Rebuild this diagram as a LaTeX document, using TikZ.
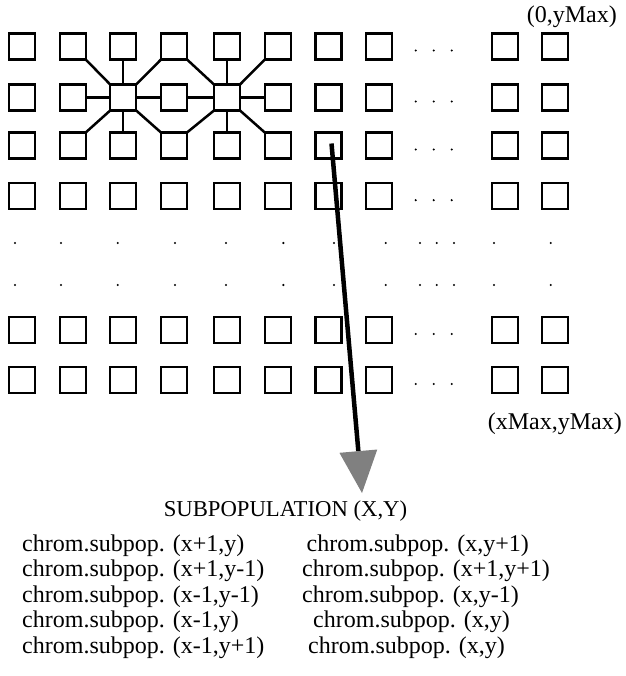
\documentclass[tikz,border=0pt]{standalone}
\usepackage{fontspec}
\setmainfont{Liberation Serif}
\usetikzlibrary{arrows.meta}
\begin{document}
\begin{tikzpicture}[x=1pt,y=-1pt,
  cell/.style={draw, line width=2.2pt, minimum size=26pt, inner sep=0pt, outer sep=0pt},
  link/.style={line width=2.5pt},
  dotmark/.style={fill=black},
  lbl/.style={font=\fontsize{24}{26}\selectfont, inner sep=0pt, anchor=base west},
  corner/.style={font=\fontsize{24}{26}\selectfont, inner sep=0pt, anchor=base east},
  bigarrow/.style={line width=4.5pt, -{Triangle[width=38pt,length=42pt,color=gray,line width=0pt]}},
]
\useasboundingbox (0,0) rectangle (625,676);
% grid of subpopulations
\foreach \c/\x in {1/21.7,2/72.7,3/123.2,4/174,5/227,6/277.8,7/328.5,8/378.7,9/504.7,10/555.2}{
  \foreach \r/\y in {1/46.5,2/97.5,3/145.5,4/196.2,5/330,6/380}{
    \node[cell] (s-\c-\r) at (\x,\y) {};
  }
}
% horizontal ellipses
\foreach \y in {46.5,97.5,145.5,196.2,330,380}{
  \foreach \x in {415.7,433.7,451.7}{
    \fill[dotmark] (\x,\y+4) circle (1.2);
  }
}
% vertical ellipsis rows
\foreach \y in {243,285}{
  \foreach \x in {15,61,117.7,175,226,283.3,334,385.7,420,436.7,454,494,550.7}{
    \fill[dotmark] (\x,\y) circle (1.2);
  }
}
% neighbourhood links, hub 1
\draw[link] (s-2-2.east) -- (s-3-2.west);
\draw[link] (s-3-2.east) -- (s-4-2.west);
\draw[link] (s-3-1.south) -- (s-3-2.north);
\draw[link] (s-3-2.south) -- (s-3-3.north);
\draw[link] (s-2-1.south east) -- (s-3-2.north west);
\draw[link] (s-4-1.south west) -- (s-3-2.north east);
\draw[link] (s-2-3.north east) -- (s-3-2.south west);
\draw[link] (s-4-3.north west) -- (s-3-2.south east);
% hub 2
\draw[link] (s-4-2.east) -- (s-5-2.west);
\draw[link] (s-5-2.east) -- (s-6-2.west);
\draw[link] (s-5-1.south) -- (s-5-2.north);
\draw[link] (s-5-2.south) -- (s-5-3.north);
\draw[link] (s-4-1.south east) -- (s-5-2.north west);
\draw[link] (s-6-1.south west) -- (s-5-2.north east);
\draw[link] (s-4-3.north east) -- (s-5-2.south west);
\draw[link] (s-6-3.north west) -- (s-5-2.south east);
% corner labels
\node[corner] (ymaxlbl) at (617,22.5) {(0,yMax)};
\node[corner] (xmaxlbl) at (622,429) {(xMax,yMax)};
% arrow to subpopulation
\coordinate (astart) at (331.5,143.5);
\coordinate (atip) at (362,493);
\draw[bigarrow] (astart) -- (atip);
\node[font=\fontsize{22.7}{24}\selectfont, inner sep=0pt, anchor=base] (subpop) at (285.5,516) {SUBPOPULATION (X,Y)};
% lists
\node[lbl] (l1) at (22,551) {chrom.subpop. (x+1,y)};
\node[lbl] (l2) at (22,576.5) {chrom.subpop. (x+1,y-1)};
\node[lbl] (l3) at (22,602) {chrom.subpop. (x-1,y-1)};
\node[lbl] (l4) at (22,627) {chrom.subpop. (x-1,y)};
\node[lbl] (l5) at (22,653) {chrom.subpop. (x-1,y+1)};
\node[lbl] (r1) at (306.5,551) {chrom.subpop. (x,y+1)};
\node[lbl] (r2) at (302,576.5) {chrom.subpop. (x+1,y+1)};
\node[lbl] (r3) at (302,602) {chrom.subpop. (x,y-1)};
\node[lbl] (r4) at (313,627) {chrom.subpop. (x,y)};
\node[lbl] (r5) at (308,653) {chrom.subpop. (x,y)};
\end{tikzpicture}
\end{document}
